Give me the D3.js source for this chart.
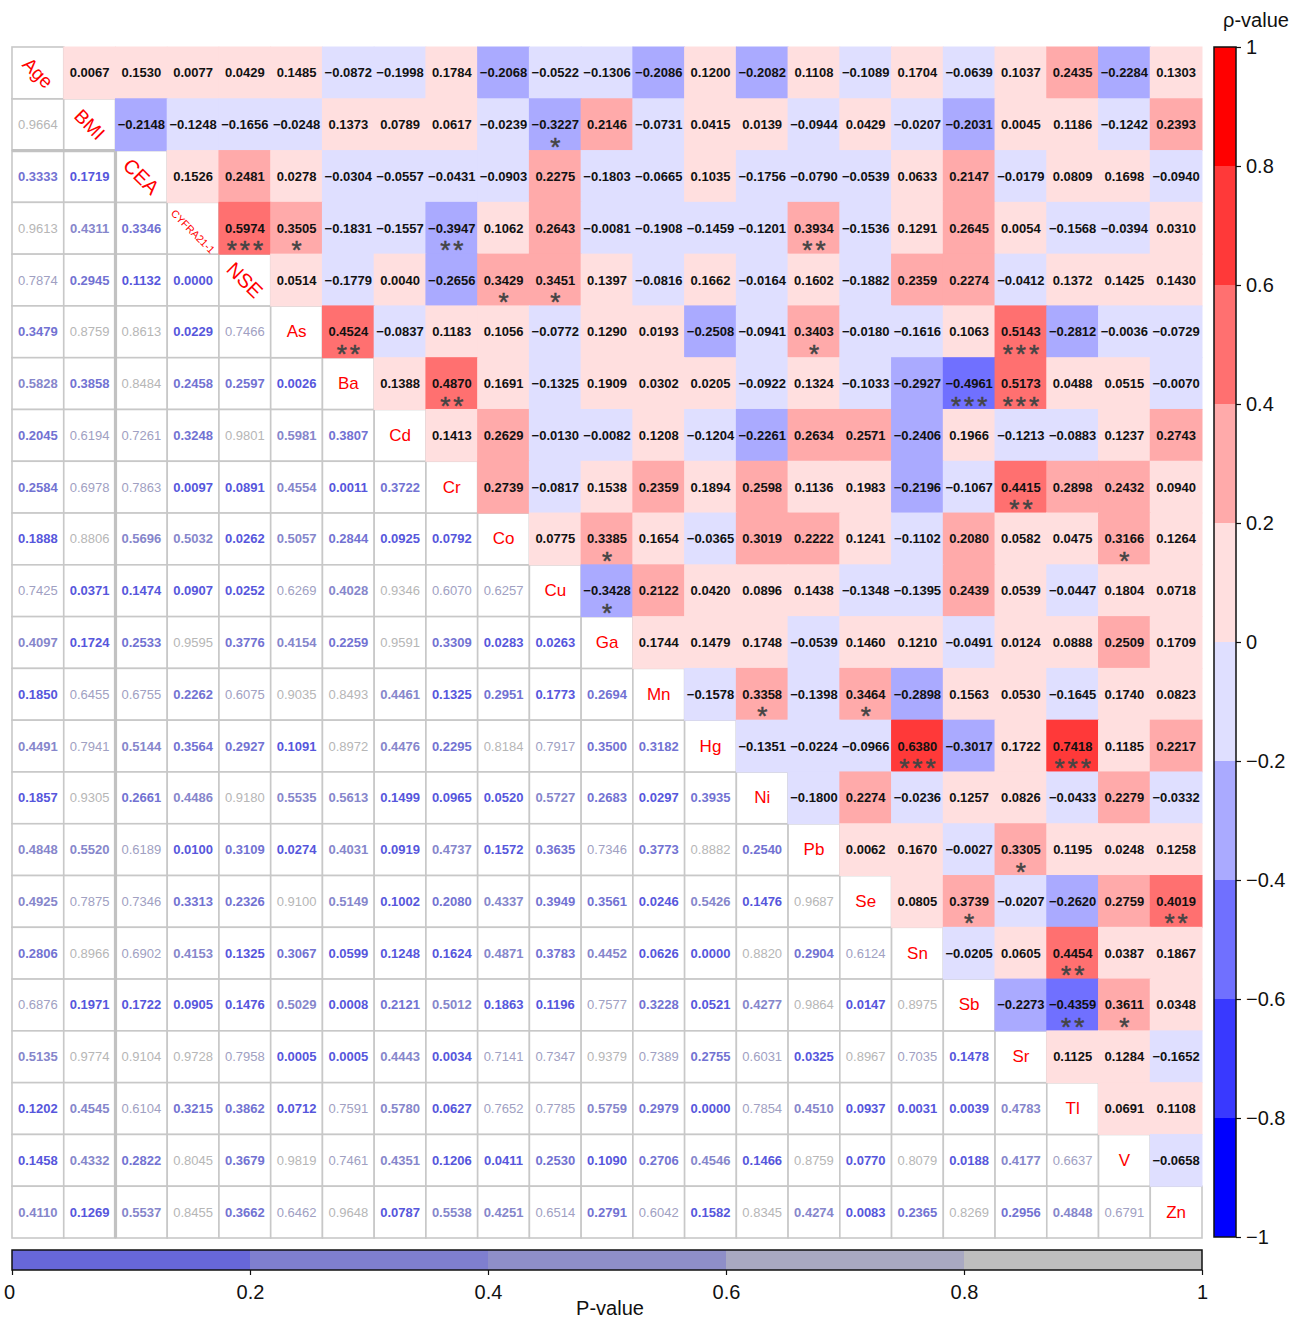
<!DOCTYPE html>
<html>
<head>
<meta charset="utf-8">
<script src="https://cdn.jsdelivr.net/npm/d3@7"></script>
<style>
  html, body { margin: 0; padding: 0; background: #fff; }
  svg { display: block; font-family: "Liberation Sans", Arial, Helvetica, sans-serif; }
</style>
</head>
<body>
<svg id="chart" width="1303" height="1320"></svg>
<script>
const vars = ["Age","BMI","CEA","CYFRA21-1","NSE","As","Ba","Cd","Cr","Co","Cu","Ga","Mn","Hg","Ni","Pb","Se","Sn","Sb","Sr","Tl","V","Zn"];

// Upper triangle: Spearman rho, row i, columns i+1 .. 22
const rhoAge  = [0.0067,0.1530,0.0077,0.0429,0.1485,-0.0872,-0.1998,0.1784,-0.2068,-0.0522,-0.1306,-0.2086,0.1200,-0.2082,0.1108,-0.1089,0.1704,-0.0639,0.1037,0.2435,-0.2284,0.1303];
const rhoBMI  = [-0.2148,-0.1248,-0.1656,-0.0248,0.1373,0.0789,0.0617,-0.0239,-0.3227,0.2146,-0.0731,0.0415,0.0139,-0.0944,0.0429,-0.0207,-0.2031,0.0045,0.1186,-0.1242,0.2393];
const rhoCEA  = [0.1526,0.2481,0.0278,-0.0304,-0.0557,-0.0431,-0.0903,0.2275,-0.1803,-0.0665,0.1035,-0.1756,-0.0790,-0.0539,0.0633,0.2147,-0.0179,0.0809,0.1698,-0.0940];
const rhoCYF  = [0.5974,0.3505,-0.1831,-0.1557,-0.3947,0.1062,0.2643,-0.0081,-0.1908,-0.1459,-0.1201,0.3934,-0.1536,0.1291,0.2645,0.0054,-0.1568,-0.0394,0.0310];
const rhoNSE  = [0.0514,-0.1779,0.0040,-0.2656,0.3429,0.3451,0.1397,-0.0816,0.1662,-0.0164,0.1602,-0.1882,0.2359,0.2274,-0.0412,0.1372,0.1425,0.1430];
const rhoAs   = [0.4524,-0.0837,0.1183,0.1056,-0.0772,0.1290,0.0193,-0.2508,-0.0941,0.3403,-0.0180,-0.1616,0.1063,0.5143,-0.2812,-0.0036,-0.0729];
const rhoBa   = [0.1388,0.4870,0.1691,-0.1325,0.1909,0.0302,0.0205,-0.0922,0.1324,-0.1033,-0.2927,-0.4961,0.5173,0.0488,0.0515,-0.0070];
const rhoCd   = [0.1413,0.2629,-0.0130,-0.0082,0.1208,-0.1204,-0.2261,0.2634,0.2571,-0.2406,0.1966,-0.1213,-0.0883,0.1237,0.2743];
const rhoCr   = [0.2739,-0.0817,0.1538,0.2359,0.1894,0.2598,0.1136,0.1983,-0.2196,-0.1067,0.4415,0.2898,0.2432,0.0940];
const rhoCo   = [0.0775,0.3385,0.1654,-0.0365,0.3019,0.2222,0.1241,-0.1102,0.2080,0.0582,0.0475,0.3166,0.1264];
const rhoCu   = [-0.3428,0.2122,0.0420,0.0896,0.1438,-0.1348,-0.1395,0.2439,0.0539,-0.0447,0.1804,0.0718];
const rhoGa   = [0.1744,0.1479,0.1748,-0.0539,0.1460,0.1210,-0.0491,0.0124,0.0888,0.2509,0.1709];
const rhoMn   = [-0.1578,0.3358,-0.1398,0.3464,-0.2898,0.1563,0.0530,-0.1645,0.1740,0.0823];
const rhoHg   = [-0.1351,-0.0224,-0.0966,0.6380,-0.3017,0.1722,0.7418,0.1185,0.2217];
const rhoNi   = [-0.1800,0.2274,-0.0236,0.1257,0.0826,-0.0433,0.2279,-0.0332];
const rhoPb   = [0.0062,0.1670,-0.0027,0.3305,0.1195,0.0248,0.1258];
const rhoSe   = [0.0805,0.3739,-0.0207,-0.2620,0.2759,0.4019];
const rhoSn   = [-0.0205,0.0605,0.4454,0.0387,0.1867];
const rhoSb   = [-0.2273,-0.4359,0.3611,0.0348];
const rhoSr   = [0.1125,0.1284,-0.1652];
const rhoTl   = [0.0691,0.1108];
const rhoV    = [-0.0658];
const rhoUpper = [rhoAge,rhoBMI,rhoCEA,rhoCYF,rhoNSE,rhoAs,rhoBa,rhoCd,rhoCr,rhoCo,rhoCu,rhoGa,rhoMn,rhoHg,rhoNi,rhoPb,rhoSe,rhoSn,rhoSb,rhoSr,rhoTl,rhoV,[]];

// Lower triangle: P-values, row i, columns 0 .. i-1
const pAge  = [];
const pBMI  = [0.9664];
const pCEA  = [0.3333,0.1719];
const pCYF  = [0.9613,0.4311,0.3346];
const pNSE  = [0.7874,0.2945,0.1132,0.0000];
const pAs   = [0.3479,0.8759,0.8613,0.0229,0.7466];
const pBa   = [0.5828,0.3858,0.8484,0.2458,0.2597,0.0026];
const pCd   = [0.2045,0.6194,0.7261,0.3248,0.9801,0.5981,0.3807];
const pCr   = [0.2584,0.6978,0.7863,0.0097,0.0891,0.4554,0.0011,0.3722];
const pCo   = [0.1888,0.8806,0.5696,0.5032,0.0262,0.5057,0.2844,0.0925,0.0792];
const pCu   = [0.7425,0.0371,0.1474,0.0907,0.0252,0.6269,0.4028,0.9346,0.6070,0.6257];
const pGa   = [0.4097,0.1724,0.2533,0.9595,0.3776,0.4154,0.2259,0.9591,0.3309,0.0283,0.0263];
const pMn   = [0.1850,0.6455,0.6755,0.2262,0.6075,0.9035,0.8493,0.4461,0.1325,0.2951,0.1773,0.2694];
const pHg   = [0.4491,0.7941,0.5144,0.3564,0.2927,0.1091,0.8972,0.4476,0.2295,0.8184,0.7917,0.3500,0.3182];
const pNi   = [0.1857,0.9305,0.2661,0.4486,0.9180,0.5535,0.5613,0.1499,0.0965,0.0520,0.5727,0.2683,0.0297,0.3935];
const pPb   = [0.4848,0.5520,0.6189,0.0100,0.3109,0.0274,0.4031,0.0919,0.4737,0.1572,0.3635,0.7346,0.3773,0.8882,0.2540];
const pSe   = [0.4925,0.7875,0.7346,0.3313,0.2326,0.9100,0.5149,0.1002,0.2080,0.4337,0.3949,0.3561,0.0246,0.5426,0.1476,0.9687];
const pSn   = [0.2806,0.8966,0.6902,0.4153,0.1325,0.3067,0.0599,0.1248,0.1624,0.4871,0.3783,0.4452,0.0626,0.0000,0.8820,0.2904,0.6124];
const pSb   = [0.6876,0.1971,0.1722,0.0905,0.1476,0.5029,0.0008,0.2121,0.5012,0.1863,0.1196,0.7577,0.3228,0.0521,0.4277,0.9864,0.0147,0.8975];
const pSr   = [0.5135,0.9774,0.9104,0.9728,0.7958,0.0005,0.0005,0.4443,0.0034,0.7141,0.7347,0.9379,0.7389,0.2755,0.6031,0.0325,0.8967,0.7035,0.1478];
const pTl   = [0.1202,0.4545,0.6104,0.3215,0.3862,0.0712,0.7591,0.5780,0.0627,0.7652,0.7785,0.5759,0.2979,0.0000,0.7854,0.4510,0.0937,0.0031,0.0039,0.4783];
const pV    = [0.1458,0.4332,0.2822,0.8045,0.3679,0.9819,0.7461,0.4351,0.1206,0.0411,0.2530,0.1090,0.2706,0.4546,0.1466,0.8759,0.0770,0.8079,0.0188,0.4177,0.6637];
const pZn   = [0.4110,0.1269,0.5537,0.8455,0.3662,0.6462,0.9648,0.0787,0.5538,0.4251,0.6514,0.2791,0.6042,0.1582,0.8345,0.4274,0.0083,0.2365,0.8269,0.2956,0.4848,0.6791];
const pLower = [pAge,pBMI,pCEA,pCYF,pNSE,pAs,pBa,pCd,pCr,pCo,pCu,pGa,pMn,pHg,pNi,pPb,pSe,pSn,pSb,pSr,pTl,pV,pZn];

const rhoTicks = [-1,-0.8,-0.6,-0.4,-0.2,0,0.2,0.4,0.6,0.8,1];
const rhoColors = ["#0000ff","#3939ff","#7070ff","#aaaaff","#dfdfff","#ffdfdf","#ffaaaa","#ff7070","#ff3939","#ff0000"];
const pTicks = [0,0.2,0.4,0.6,0.8,1];
const pColors = ["#6767d9","#7f7fcf","#8f8fc8","#a9a9c2","#bebebe"];
const pTextColors = ["#5656dc","#7272d2","#8686cb","#a0a0c2","#b6b6b6"];

const svg = d3.select("#chart");
const x = d3.scaleBand().domain(vars).range([12, 1202]);
const y = d3.scaleBand().domain(vars).range([47, 1238]);
const bw = x.bandwidth(), bh = y.bandwidth();

const rhoColor = d3.scaleThreshold().domain(rhoTicks.slice(1, -1)).range(rhoColors);
const pTextColor = d3.scaleThreshold().domain(pTicks.slice(1, -1)).range(pTextColors);

const fmt = d3.format(".4f");
const upper = [], lower = [], diag = [];
vars.forEach((vi, i) => {
  vars.forEach((vj, j) => {
    if (j > i) upper.push({i, j, rho: rhoUpper[i][j - i - 1], p: pLower[j][i]});
    else if (j < i) lower.push({i, j, p: pLower[i][j]});
    else diag.push({i, name: vi});
  });
});

// lower + diagonal cells with grey borders
const gl = svg.append("g");
gl.selectAll("rect.low").data(lower.concat(diag.map(d => ({i: d.i, j: d.i}))))
  .join("rect")
  .attr("x", d => x(vars[d.j])).attr("y", d => y(vars[d.i]))
  .attr("width", bw).attr("height", bh)
  .attr("fill", "#fff").attr("stroke", "#c8c8c8").attr("stroke-width", 1.6);

// thicker separators
gl.append("line").attr("x1", x("CEA")).attr("x2", x("CEA"))
  .attr("y1", y("CEA")).attr("y2", y("Zn") + bh)
  .attr("stroke", "#c2c2c2").attr("stroke-width", 3.2);
gl.append("line").attr("x1", x("Age")).attr("x2", x("CEA"))
  .attr("y1", y("CEA")).attr("y2", y("CEA"))
  .attr("stroke", "#c2c2c2").attr("stroke-width", 3.2);

// upper colored cells
const gu = svg.append("g");
gu.selectAll("rect").data(upper).join("rect")
  .attr("x", d => x(vars[d.j]) - 0.5).attr("y", d => y(vars[d.i]) - 0.5)
  .attr("width", bw + 1).attr("height", bh + 1)
  .attr("fill", d => rhoColor(d.rho));

const numStr = v => (v < 0 ? "\u2212" : "") + fmt(Math.abs(v));

gu.selectAll("text.rho").data(upper).join("text")
  .attr("class", "rho")
  .attr("x", d => x(vars[d.j]) + bw / 2).attr("y", d => y(vars[d.i]) + bh / 2)
  .attr("text-anchor", "middle").attr("dominant-baseline", "central")
  .attr("font-size", 13).attr("font-weight", "bold").attr("fill", "#111")
  .text(d => numStr(d.rho));

const stars = p => p < 0.001 ? "***" : p <= 0.01 ? "**" : p < 0.05 ? "*" : "";
const starLS = 3;
gu.selectAll("text.star").data(upper.filter(d => stars(d.p) !== "")).join("text")
  .attr("class", "star")
  .attr("x", d => x(vars[d.j]) + bw / 2 + starLS / 2).attr("y", d => y(vars[d.i]) + bh / 2 + 31)
  .attr("text-anchor", "middle")
  .attr("font-size", 26).attr("letter-spacing", starLS).attr("fill", "#444")
  .attr("stroke", "#444").attr("stroke-width", 0.5)
  .text(d => stars(d.p));

// lower p-value texts
gl.selectAll("text.p").data(lower).join("text")
  .attr("class", "p")
  .attr("x", d => x(vars[d.j]) + bw / 2).attr("y", d => y(vars[d.i]) + bh / 2)
  .attr("text-anchor", "middle").attr("dominant-baseline", "central")
  .attr("font-size", 13)
  .attr("font-weight", d => d.p < 0.6 ? "bold" : "normal")
  .attr("fill", d => pTextColor(d.p))
  .text(d => fmt(d.p));

// diagonal labels
const rotated = {"Age": 19, "BMI": 19, "CEA": 20, "CYFRA21-1": 10.5, "NSE": 20};
const gd = svg.append("g");
gd.selectAll("text").data(diag).join("text")
  .attr("transform", d => {
    const cx = x(d.name) + bw / 2, cy = y(d.name) + bh / 2 + (d.name === "CYFRA21-1" ? 3 : 0);
    return `translate(${cx},${cy})` + (rotated[d.name] ? " rotate(45)" : "");
  })
  .attr("text-anchor", "middle").attr("dominant-baseline", "central")
  .attr("font-size", d => rotated[d.name] || 17)
  .attr("fill", "#ff0000")
  .text(d => d.name);

// rho colorbar (right)
const cbX = 1214, cbW = 22;
const cy = d3.scaleLinear().domain([-1, 1]).range([1237, 47]);
const gc = svg.append("g");
gc.selectAll("rect").data(rhoColors).join("rect")
  .attr("x", cbX).attr("y", (c, k) => cy(rhoTicks[k + 1]))
  .attr("width", cbW).attr("height", (c, k) => cy(rhoTicks[k]) - cy(rhoTicks[k + 1]))
  .attr("fill", c => c);
gc.append("rect").attr("x", cbX).attr("y", 47).attr("width", cbW).attr("height", 1190)
  .attr("fill", "none").attr("stroke", "#111").attr("stroke-width", 1.5);
const axR = gc.append("g").attr("transform", `translate(${cbX + cbW},0)`)
  .call(d3.axisRight(cy).tickValues(rhoTicks).tickSize(5).tickPadding(5)
    .tickFormat(d => d === 0 ? "0" : (d < 0 ? "\u2212" : "") + d3.format("~g")(Math.abs(d))));
axR.select(".domain").remove();
axR.selectAll("line").attr("stroke", "#111").attr("stroke-width", 1.2);
axR.selectAll("text").attr("font-size", 20).attr("fill", "#111")
  .attr("font-family", "'Liberation Sans', Arial, sans-serif");
svg.append("text").attr("x", 1256).attr("y", 27).attr("text-anchor", "middle")
  .attr("font-size", 20).attr("fill", "#111").text("\u03c1-value");

// p-value colorbar (bottom)
const px = d3.scaleLinear().domain([0, 1]).range([12, 1202]);
const pbY = 1250, pbH = 20;
const gp = svg.append("g");
gp.selectAll("rect").data(pColors).join("rect")
  .attr("x", (c, k) => px(pTicks[k])).attr("y", pbY)
  .attr("width", (c, k) => px(pTicks[k + 1]) - px(pTicks[k])).attr("height", pbH)
  .attr("fill", c => c);
gp.append("rect").attr("x", 12).attr("y", pbY).attr("width", 1190).attr("height", pbH)
  .attr("fill", "none").attr("stroke", "#111").attr("stroke-width", 1.5);
const axB = gp.append("g").attr("transform", `translate(0,${pbY + pbH})`)
  .call(d3.axisBottom(px).tickValues(pTicks).tickSize(5).tickPadding(10)
    .tickFormat(d => d3.format("~g")(d)));
axB.select(".domain").remove();
axB.selectAll("line").attr("stroke", "#111").attr("stroke-width", 1.2);
axB.selectAll("text").attr("font-size", 20).attr("fill", "#111")
  .attr("font-family", "'Liberation Sans', Arial, sans-serif");
axB.selectAll(".tick").filter(d => d === 0).select("text").attr("dx", -3);
svg.append("text").attr("x", 610).attr("y", 1315).attr("text-anchor", "middle")
  .attr("font-size", 20).attr("fill", "#111").text("P-value");
</script>
</body>
</html>
